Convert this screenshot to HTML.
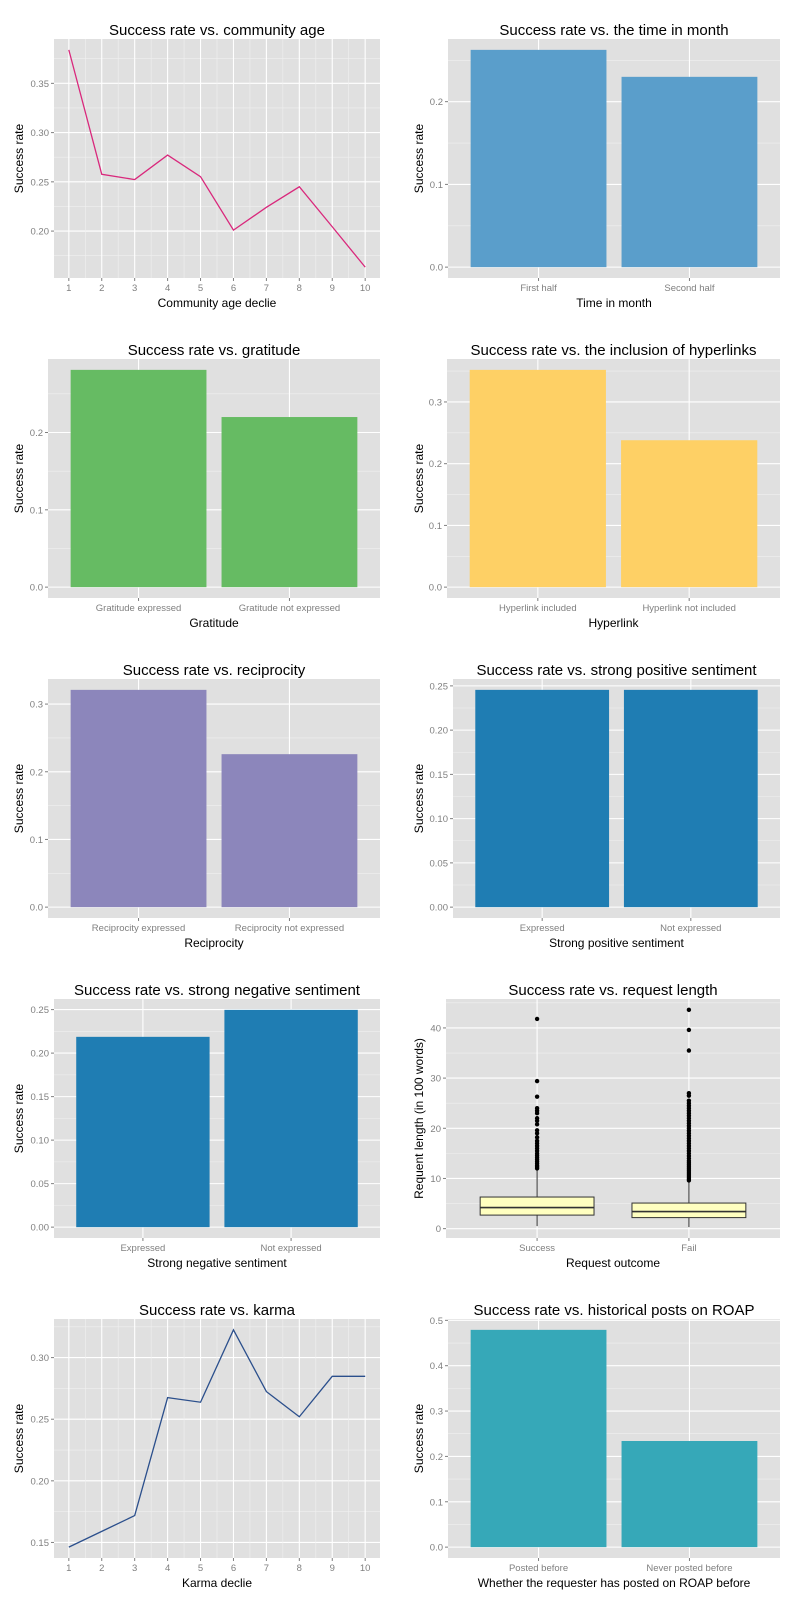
<!DOCTYPE html>
<html><head><meta charset="utf-8"><style>
html,body{margin:0;padding:0;background:#fff;width:800px;height:1600px;overflow:hidden}
svg{display:block;font-family:"Liberation Sans",sans-serif}
</style></head><body>
<svg id="fig" width="800" height="1600" viewBox="0 0 800 1600"></svg>
<script>
// ---- data ----
const decileLabels = [1,2,3,4,5,6,7,8,9,10];
const communityAgeRates = [0.384,0.2577,0.2523,0.2772,0.2552,0.201,0.2241,0.245,0.2044,0.1634];
const communityAgeTicks = [0.20,0.25,0.30,0.35];
const karmaRates = [0.1462,0.159,0.1718,0.2675,0.2638,0.3225,0.2724,0.252,0.2848,0.2848];
const karmaTicks = [0.15,0.20,0.25,0.30];
const timeCats = ["First half","Second half"];
const timeRates = [0.2626,0.230];
const timeTicks = [0.0,0.1,0.2];
const gratCats = ["Gratitude expressed","Gratitude not expressed"];
const gratRates = [0.281,0.220];
const gratTicks = [0.0,0.1,0.2];
const linkCats = ["Hyperlink included","Hyperlink not included"];
const linkRates = [0.352,0.238];
const linkTicks = [0.0,0.1,0.2,0.3];
const recCats = ["Reciprocity expressed","Reciprocity not expressed"];
const recRates = [0.321,0.226];
const recTicks = [0.0,0.1,0.2,0.3];
const posCats = ["Expressed","Not expressed"];
const posRates = [0.2455,0.2455];
const sentTicks = [0.00,0.05,0.10,0.15,0.20,0.25];
const negCats = ["Expressed","Not expressed"];
const negRates = [0.2187,0.2497];
const roapCats = ["Posted before","Never posted before"];
const roapRates = [0.479,0.234];
const roapTicks = [0.0,0.1,0.2,0.3,0.4,0.5];
const boxCats = ["Success","Fail"];
const boxLow = [0.5,0.3];
const boxQ1 = [2.7,2.2];
const boxMed = [4.2,3.4];
const boxQ3 = [6.3,5.1];
const boxHigh = [11.8,9.5];
const successOutliers = [12,12.3,12.6,13,13.4,13.8,14.2,14.6,15,15.5,16,16.5,17,17.5,18.2,19,19.6,20.8,21.5,22,23,23.5,24,26.3,29.4,41.8];
const failOutliers = [9.6,9.9,10.3,10.7,11.1,11.5,11.9,12.3,12.7,13.1,13.5,14,14.5,15,15.5,16,16.5,17,17.5,18,18.5,19,19.5,20,20.5,21,21.5,22,22.5,23,23.5,24,24.5,25,25.5,26.5,27,35.5,39.6,43.6];
const boxTicks = [0,10,20,30,40];

const NS="http://www.w3.org/2000/svg";
const svg=document.getElementById('fig');
function mk(tag,attrs,parent){const e=document.createElementNS(NS,tag);for(const k in attrs)e.setAttribute(k,attrs[k]);(parent||svg).appendChild(e);return e;}
function txt(s,attrs,parent){const e=mk('text',attrs,parent);e.textContent=s;return e;}

function panel(ox,oy,left,right,title,xtitle,ytitle,name){
  const g=mk('g',{transform:`translate(${ox},${oy})`});
  
  
  const P={g,left:left-ox,right:right-ox,top:39,bottom:278};
  const bg=mk('rect',{x:P.left,y:P.top,width:P.right-P.left,height:P.bottom-P.top,fill:'#e0e0e0'},g);
  
  
  const t=txt(title,{x:(P.left+P.right)/2,y:35,'text-anchor':'middle','font-size':'15',fill:'#000'},g);
  
  
  const xt=txt(xtitle,{x:(P.left+P.right)/2,y:307,'text-anchor':'middle','font-size':'12',fill:'#000'},g);
  
  
  const yt=txt(ytitle,{x:0,y:0,transform:`translate(23,${(P.top+P.bottom)/2}) rotate(-90)`,'text-anchor':'middle','font-size':'12',fill:'#000'},g);
  
  
  return P;
}
function yAxis(P,ticks,y0,y1,dec){
  P.ys=v=>P.bottom-(v-y0)/(y1-y0)*(P.bottom-P.top);
  const step=ticks[1]-ticks[0];
  const minors=ticks.map(t=>t-step/2).concat([ticks[ticks.length-1]+step/2]).filter(v=>v>y0&&v<y1);
  minors.forEach(v=>{const l=mk('line',{x1:P.left,x2:P.right,y1:P.ys(v),y2:P.ys(v),stroke:'#f0f0f0','stroke-width':0.6},P.g);
    
    });
  ticks.forEach(v=>{const y=P.ys(v);
    const l=mk('line',{x1:P.left,x2:P.right,y1:y,y2:y,stroke:'#fff','stroke-width':1.1},P.g);
    
    
    mk('line',{x1:P.left-3,x2:P.left,y1:y,y2:y,stroke:'#7f7f7f','stroke-width':1},P.g);
    const tl=txt(v.toFixed(dec),{x:P.left-5,y:y+3.5,'text-anchor':'end','font-size':'9.5',fill:'#7f7f7f'},P.g);
    
    });
}
function xDiscrete(P,cats){
  const x0=0.4,x1=cats.length+0.6;
  P.xs=v=>P.left+(v-x0)/(x1-x0)*(P.right-P.left);
  P.unit=(P.right-P.left)/(x1-x0);
  cats.forEach((c,i)=>{const x=P.xs(i+1);
    const l=mk('line',{x1:x,x2:x,y1:P.top,y2:P.bottom,stroke:'#fff','stroke-width':1.1},P.g);
    
    
    mk('line',{x1:x,x2:x,y1:P.bottom,y2:P.bottom+3,stroke:'#7f7f7f','stroke-width':1},P.g);
    const tl=txt(c,{x:x,y:291,'text-anchor':'middle','font-size':'9.5',fill:'#7f7f7f'},P.g);
    
    });
}
function xCont(P,labels){
  const n=labels.length,x0=1-0.05*(n-1),x1=n+0.05*(n-1);
  P.xs=v=>P.left+(v-x0)/(x1-x0)*(P.right-P.left);
  for(let i=0;i<n-1;i++){const x=P.xs(i+1.5);
    const l=mk('line',{x1:x,x2:x,y1:P.top,y2:P.bottom,stroke:'#f0f0f0','stroke-width':0.6},P.g);
    
    }
  labels.forEach((c,i)=>{const x=P.xs(i+1);
    const l=mk('line',{x1:x,x2:x,y1:P.top,y2:P.bottom,stroke:'#fff','stroke-width':1.1},P.g);
    
    
    mk('line',{x1:x,x2:x,y1:P.bottom,y2:P.bottom+3,stroke:'#7f7f7f','stroke-width':1},P.g);
    const tl=txt(String(c),{x:x,y:291,'text-anchor':'middle','font-size':'9.5',fill:'#7f7f7f'},P.g);
    
    });
}
function barChart(ox,oy,left,right,title,xtitle,cats,vals,ticks,dec,color,name){
  const P=panel(ox,oy,left,right,title,xtitle,'Success rate',name);
  const m=Math.max(...vals);
  yAxis(P,ticks,-0.05*m,1.05*m,dec);
  xDiscrete(P,cats);
  vals.forEach((v,i)=>{const xc=P.xs(i+1),w=0.9*P.unit;
    const r=mk('rect',{x:xc-w/2,y:P.ys(v),width:w,height:P.ys(0)-P.ys(v),fill:color},P.g);
    
    });
}
function lineChart(ox,oy,left,right,title,xtitle,labels,vals,ticks,color,name){
  const P=panel(ox,oy,left,right,title,xtitle,'Success rate',name);
  const mn=Math.min(...vals),mx=Math.max(...vals),r=mx-mn;
  yAxis(P,ticks,mn-0.05*r,mx+0.05*r,2);
  xCont(P,labels);
  const pts=vals.map((v,i)=>P.xs(i+1).toFixed(2)+','+P.ys(v).toFixed(2)).join(' ');
  const l=mk('polyline',{points:pts,fill:'none',stroke:color,'stroke-width':1.3},P.g);
  
  
}

lineChart(0,0,54,380,'Success rate vs. community age','Community age declie',decileLabels,communityAgeRates,communityAgeTicks,'#d9287c','community-age-panel');
barChart(400,0,448,780,'Success rate vs. the time in month','Time in month',timeCats,timeRates,timeTicks,1,'#5a9ecb','time-in-month-panel');
barChart(0,320,48,380,'Success rate vs. gratitude','Gratitude',gratCats,gratRates,gratTicks,1,'#66bb63','gratitude-panel');
barChart(400,320,447,780,'Success rate vs. the inclusion of hyperlinks','Hyperlink',linkCats,linkRates,linkTicks,1,'#fed065','hyperlink-panel');
barChart(0,640,48,380,'Success rate vs. reciprocity','Reciprocity',recCats,recRates,recTicks,1,'#8c86bb','reciprocity-panel');
barChart(400,640,453,780,'Success rate vs. strong positive sentiment','Strong positive sentiment',posCats,posRates,sentTicks,2,'#1f7db3','positive-sentiment-panel');
barChart(0,960,54,380,'Success rate vs. strong negative sentiment','Strong negative sentiment',negCats,negRates,sentTicks,2,'#1f7db3','negative-sentiment-panel');

// box plot
(function(){
  const P=panel(400,960,446,780,'Success rate vs. request length','Request outcome','Requent length (in 100 words)','request-length-panel');
  const allMax=Math.max(...successOutliers,...failOutliers),allMin=Math.min(...boxLow),r=allMax-allMin;
  yAxis(P,boxTicks,allMin-0.05*r,allMax+0.05*r,0);
  xDiscrete(P,boxCats);
  const outs=[successOutliers,failOutliers];
  boxCats.forEach((c,i)=>{const xc=P.xs(i+1),w=0.75*P.unit;
    const wl=mk('line',{x1:xc,x2:xc,y1:P.ys(boxLow[i]),y2:P.ys(boxHigh[i]),stroke:'#333','stroke-width':1},P.g);
    
    
    const b=mk('rect',{x:xc-w/2,y:P.ys(boxQ3[i]),width:w,height:P.ys(boxQ1[i])-P.ys(boxQ3[i]),fill:'#ffffc0',stroke:'#333','stroke-width':1},P.g);
    
    
    const md=mk('line',{x1:xc-w/2,x2:xc+w/2,y1:P.ys(boxMed[i]),y2:P.ys(boxMed[i]),stroke:'#333','stroke-width':1.6},P.g);
    
    
    outs[i].forEach(v=>{const d=mk('circle',{cx:xc,cy:P.ys(v),r:2.2,fill:'#000'},P.g);
      
      });
  });
})();

lineChart(0,1280,54,380,'Success rate vs. karma','Karma declie',decileLabels,karmaRates,karmaTicks,'#2b4f8c','karma-panel');
barChart(400,1280,448,780,'Success rate vs. historical posts on ROAP','Whether the requester has posted on ROAP before',roapCats,roapRates,roapTicks,1,'#36a8b8','roap-history-panel');
</script>
</body></html>
